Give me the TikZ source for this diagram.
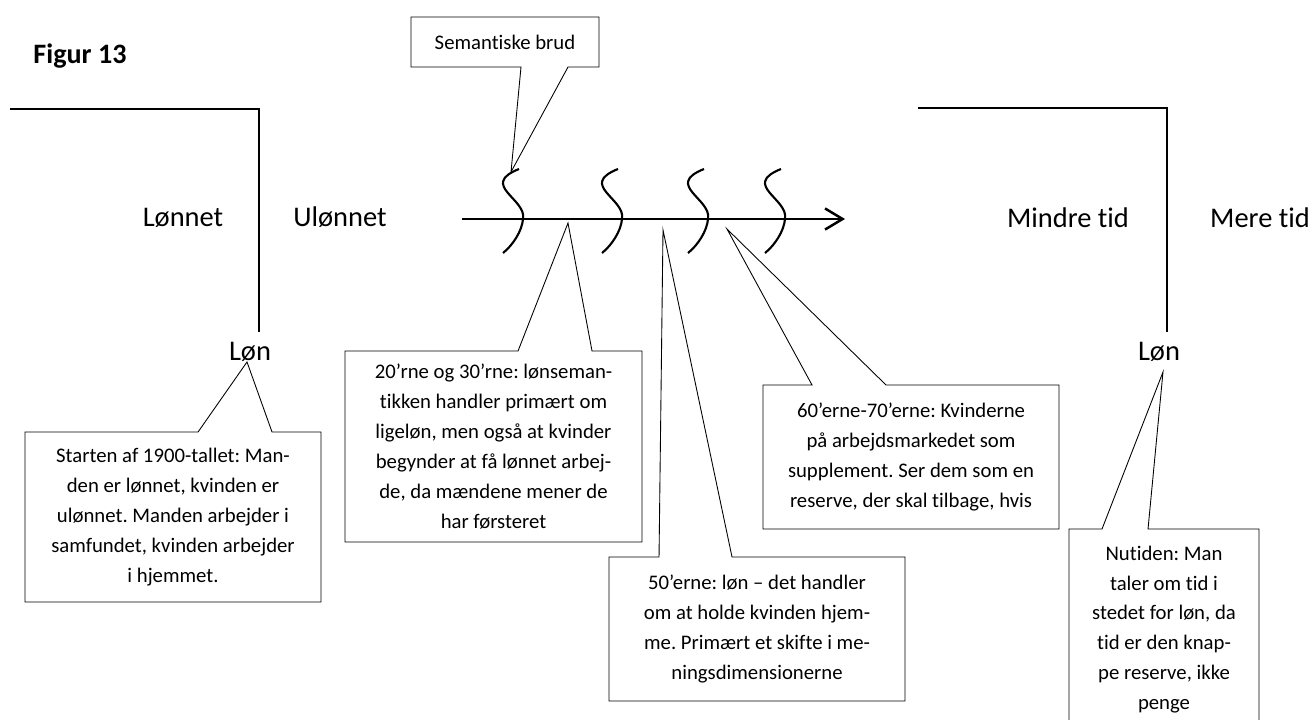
\documentclass[tikz,border=0pt]{standalone}
\usepackage{fontspec}
\setmainfont{Carlito}[Ligatures=NoCommon]
\usetikzlibrary{calc,arrows.meta}
\frenchspacing

\tikzset{
  boks/.style={inner sep=0pt,outer sep=0pt,align=center,
    font=\fontsize{11.8}{17}\selectfont},
  stor/.style={inner sep=0pt,anchor=base,font=\fontsize{16.2}{19}\selectfont},
  boble/.style={line width=0.5pt},
}

\begin{document}
\begin{tikzpicture}[x=0.02cm,y=-0.02cm]
      \useasboundingbox (0,0) rectangle (1313,720);
      \node[anchor=base,inner sep=0pt,font=\fontsize{16}{19}\selectfont\bfseries] (titel) at (80,63) {Figur 13};

      % venstre og hoejre vinkel
      \draw[line width=0.85pt] (10,109) -- (259,109) -- (259,332);
      \draw[line width=0.85pt] (918,108) -- (1167,108) -- (1167,332);
      \node[stor] (lonnet) at (183,226) {Lønnet};
      \node[stor] (ulonnet) at (340,226) {Ulønnet};
      \node[stor] (mindre) at (1068,227) {Mindre tid};
      \node[stor] (mere) at (1260,227) {Mere tid};
      \node[stor] (lonV) at (250,360) {Løn};
      \node[stor] (lonH) at (1159,360) {Løn};

      % tidslinje med brud
      \coordinate (tstart) at (462,219);
      \coordinate (tslut) at (845,219);
      \draw[line width=1.4pt,-{Straight Barb[length=10pt,width=12pt,line width=1.4pt]}] (tstart) -- (tslut);
      \foreach \sx in {523,622,708,785}
        \draw[line width=1.2pt,shift={(\sx,219)}] (-4,-50) .. controls (-44,-34) and (4,-20) .. (0,0)
          .. controls (-1,12) and (-10,26) .. (-20,34);

      % spidser
      \coordinate (tsem) at (511,172);
      \coordinate (tstart1900) at (247,362);
      \coordinate (t20) at (568,223);
      \coordinate (t50) at (663,230);
      \coordinate (t60) at (727,229);
      \coordinate (tnu) at (1163,372);

      \node[boks,minimum width=3.76cm,minimum height=1cm] (sem) at (505,42) {Semantiske brud};
      \draw[boble] (sem.north west) -- (sem.south west) -- ($(sem.south west)+(110,0)$) -- (tsem)
        -- ($(sem.south west)+(157,0)$) -- (sem.south east) -- (sem.north east) -- cycle;

      \node[boks,minimum width=5.92cm,minimum height=3.4cm] (b1900) at (173,517)
        {Starten af 1900-tallet: Man-\\den er lønnet, kvinden er\\ulønnet. Manden arbejder i\\samfundet, kvinden arbejder\\i hjemmet.};
      \draw[boble] (b1900.south west) -- (b1900.north west) -- ($(b1900.north west)+(173,0)$) -- (tstart1900)
        -- ($(b1900.north west)+(247,0)$) -- (b1900.north east) -- (b1900.south east) -- cycle;

      \node[boks,minimum width=5.94cm,minimum height=3.82cm] (b20) at (493.5,446.5)
        {20’rne og 30’rne: lønseman-\\tikken handler primært om\\ligeløn, men også at kvinder\\begynder at få lønnet arbej-\\de, da mændene mener de\\har førsteret};
      \draw[boble] (b20.south west) -- (b20.north west) -- ($(b20.north west)+(173,0)$) -- (t20)
        -- ($(b20.north west)+(247,0)$) -- (b20.north east) -- (b20.south east) -- cycle;

      \node[boks,minimum width=5.92cm,minimum height=2.88cm] (b50) at (757,629)
        {50’erne: løn – det handler\\om at holde kvinden hjem-\\me. Primært et skifte i me-\\ningsdimensionerne};
      \draw[boble] (b50.south west) -- (b50.north west) -- ($(b50.north west)+(50,0)$) -- (t50)
        -- ($(b50.north west)+(123,0)$) -- (b50.north east) -- (b50.south east) -- cycle;

      \node[boks,minimum width=5.92cm,minimum height=2.88cm] (b60) at (911,457)
        {60’erne-70’erne: Kvinderne\\på arbejdsmarkedet som\\supplement. Ser dem som en\\reserve, der skal tilbage, hvis};
      \draw[boble] (b60.south west) -- (b60.north west) -- ($(b60.north west)+(49,0)$) -- (t60)
        -- ($(b60.north west)+(123,0)$) -- (b60.north east) -- (b60.south east) -- cycle;

      \node[boks,minimum width=3.8cm,minimum height=4.02cm] (bnu) at (1164,629.5)
        {Nutiden: Man\\taler om tid i\\stedet for løn, da\\tid er den knap-\\pe reserve, ikke\\penge};
      \draw[boble] (bnu.south west) -- (bnu.north west) -- ($(bnu.north west)+(33,0)$) -- (tnu)
        -- ($(bnu.north west)+(79,0)$) -- (bnu.north east) -- (bnu.south east) -- cycle;
    \end{tikzpicture}
\end{document}
